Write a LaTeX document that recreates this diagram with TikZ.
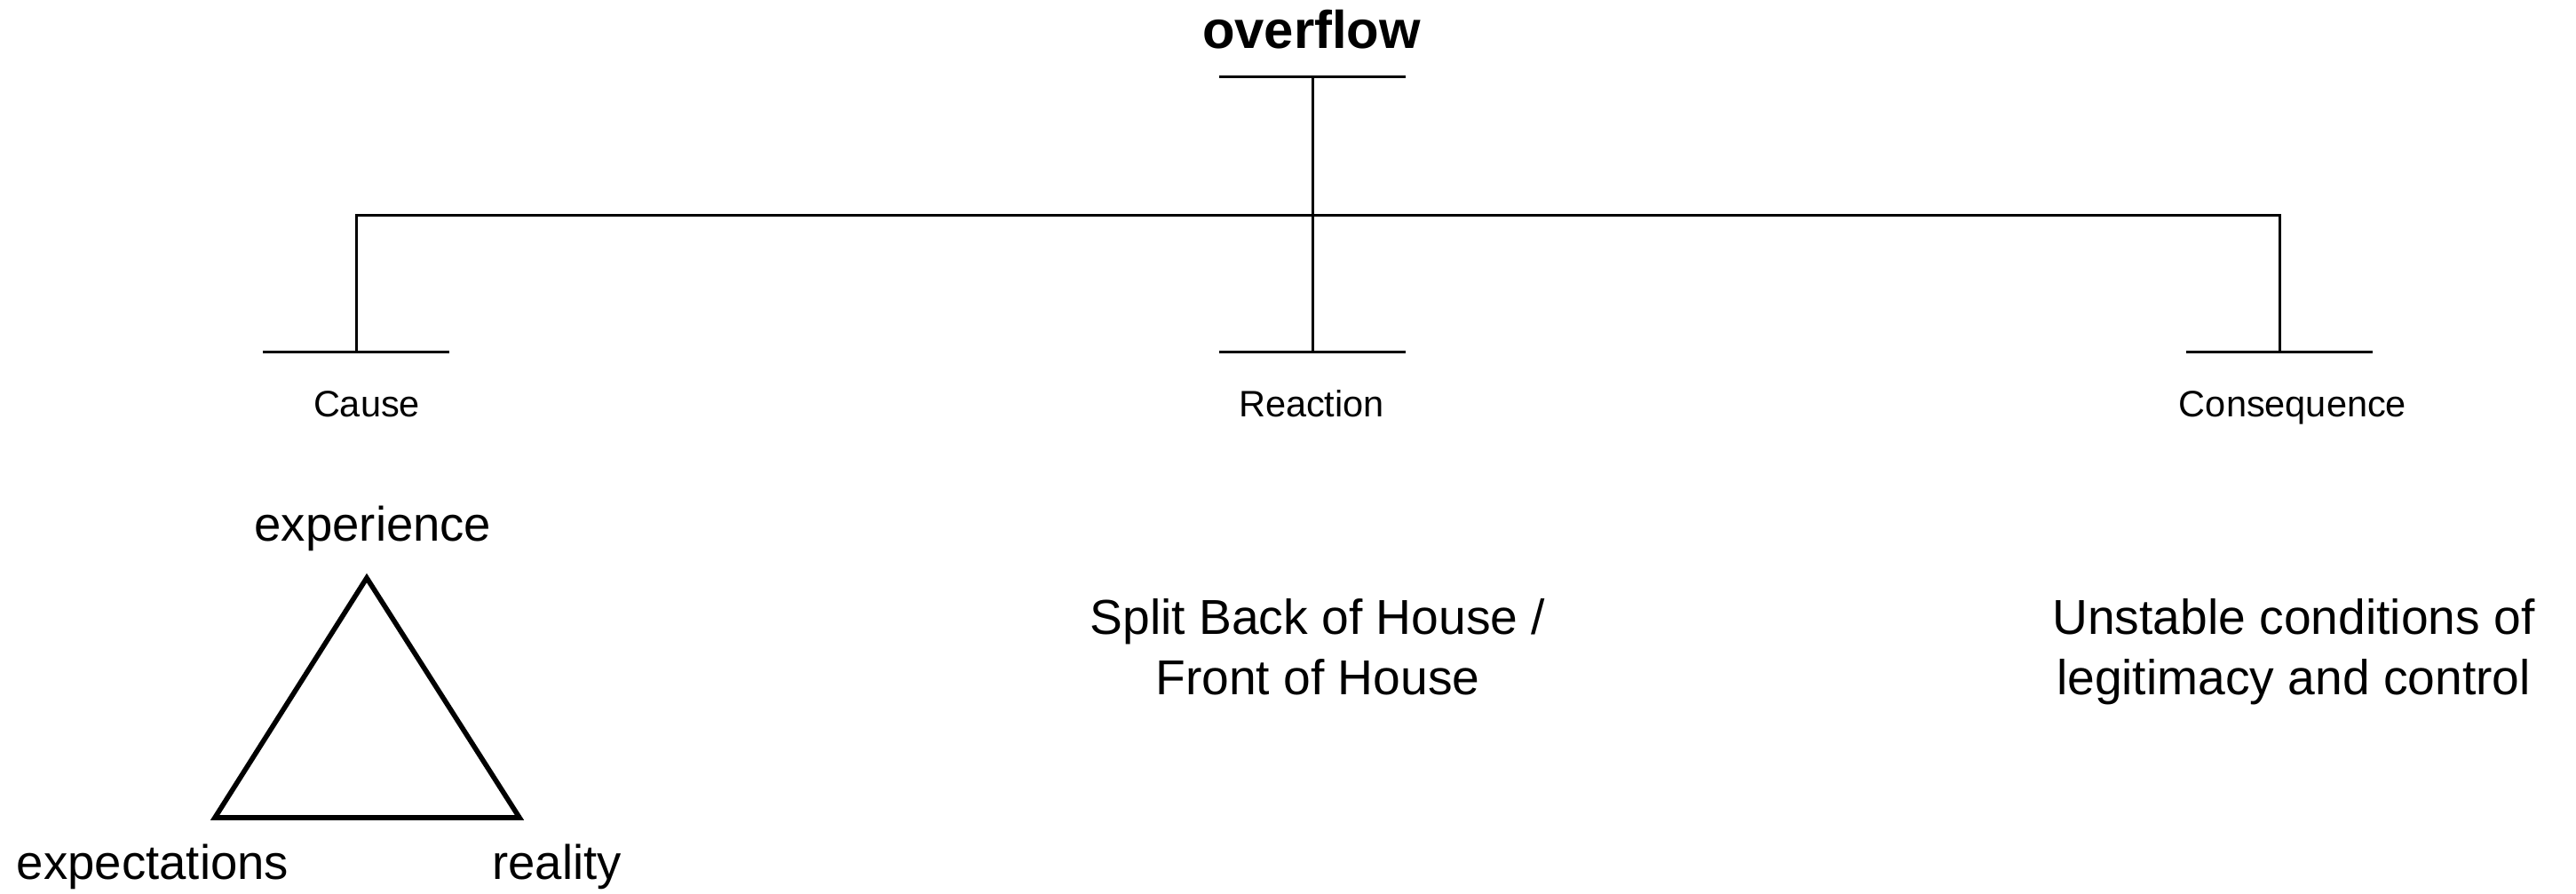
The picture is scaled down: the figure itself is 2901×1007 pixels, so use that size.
\documentclass[tikz,border=0pt]{standalone}
\usepackage{fontspec}
\setmainfont{Liberation Sans}
\usetikzlibrary{positioning}
\tikzset{
  title/.style={font=\fontsize{17}{20}\selectfont\bfseries, anchor=base, inner sep=0pt},
  branchlabel/.style={font=\fontsize{11.8}{14}\selectfont, anchor=base, inner sep=0pt},
  bodytext/.style={font=\fontsize{15.7}{19.5}\selectfont, align=center, anchor=base, inner sep=0pt},
  cornerlabel/.style={font=\fontsize{15.5}{18}\selectfont, anchor=base, inner sep=0pt},
  tbar/.style={line width=0.85pt, color=black},
  tri/.style={line width=1.6pt, line join=miter, color=black}
}

\begin{document}
\begin{tikzpicture}[x=0.01cm, y=-0.01cm]
  \useasboundingbox (0,0) rectangle (2901,1007);

  % Title and its bar
  \node[title] (overflow) at (1477,55) {overflow};
  \coordinate (topbar) at (1478,87);

  % Branch points
  \coordinate (split) at (1478,243);
  \coordinate (causebar) at (401,397);
  \coordinate (reactbar) at (1478,397);
  \coordinate (conseqbar) at (2567,397);

  % Tree lines
  \draw[tbar] ([xshift=-1.05cm]topbar) -- ([xshift=1.05cm]topbar);
  \draw[tbar] (topbar) -- (reactbar);
  \draw[tbar] (causebar) |- (split) -| (conseqbar);
  \foreach \b in {causebar, reactbar, conseqbar}
    \draw[tbar] ([xshift=-1.05cm]\b) -- ([xshift=1.05cm]\b);

  % Branch labels
  \node[branchlabel] (cause) at (413,470) {Cause};
  \node[branchlabel] (reaction) at (1477,470) {Reaction};
  \node[branchlabel] (consequence) at (2582,470) {Consequence};

  % Texts under the branches
  \node[bodytext] (split text) at (1484,783) {Split Back of House /\\Front of House};
  \node[bodytext] (unstable) at (2583,783) {Unstable conditions of\\legitimacy and control};

  % Triangle
  \coordinate (apex) at (413,651);
  \coordinate (baseleft) at (242,921);
  \coordinate (baseright) at (585,921);
  \draw[tri] (apex) -- (baseleft) -- (baseright) -- cycle;
  \node[cornerlabel] (experience) at (420,610) {experience};
  \node[cornerlabel] (expectations) at (172,990) {expectations};
  \node[cornerlabel] (reality) at (627,990) {reality};
\end{tikzpicture}
\end{document}
